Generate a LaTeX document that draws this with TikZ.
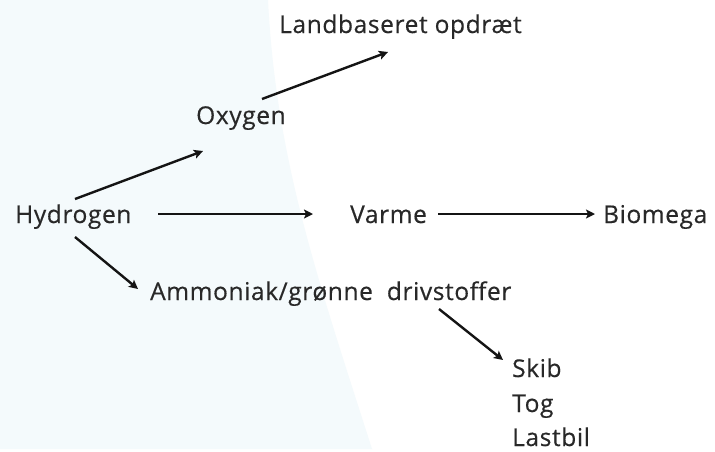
\documentclass[tikz,border=0pt]{standalone}
\usepackage{fontspec}
\setmainfont[LetterSpace=2.5,FakeBold=0.4]{Open Sans}
\usetikzlibrary{arrows.meta}
\definecolor{paleblue}{RGB}{244,250,252}
\definecolor{txtgray}{RGB}{40,40,40}
\tikzset{
  lbl/.style={inner sep=0pt, anchor=base west, text=txtgray,
    font=\fontsize{24.5}{29}\selectfont},
  arr/.style={line width=2.4pt, draw=black!92,
    -{Stealth[length=9pt,width=9pt,inset=2pt]}}
}
\begin{document}
\begin{tikzpicture}[x=1pt,y=-1pt]
  % Background
  \useasboundingbox (0,0) rectangle (715,451);
  \fill[white] (0,0) rectangle (715,451);
  \fill[paleblue] (0,0) -- (268,0) .. controls (276,160) and (318,280) .. (372,449) -- (0,449) -- cycle;
  % Labels
  \node[lbl] (land) at (279,33) {Landbaseret opdræt};
  \node[lbl] (oxy) at (196,124) {Oxygen};
  \node[lbl] (hyd) at (15,223) {Hydrogen};
  \node[lbl] (varme) at (350,223) {Varme};
  \node[lbl] (bio) at (603,223) {Biomega};
  \node[lbl] (amm) at (150,300) {Ammoniak/grønne\ \ drivstoffer};
  \node[lbl] (skib) at (512,377) {Skib};
  \node[lbl] (tog) at (512,412) {Tog};
  \node[lbl] (last) at (512,446) {Lastbil};
  % Arrows
  \draw[arr] ([shift={(60,-24)}]hyd.base west) -- ([shift={(7,27)}]oxy.base west);
  \draw[arr] ([shift={(66,-25)}]oxy.base west) -- ([shift={(109,19)}]land.base west);
  \draw[arr] ([shift={(143,-9)}]hyd.base west) -- ([shift={(-37,-9)}]varme.base west);
  \draw[arr] ([shift={(88,-9)}]varme.base west) -- ([shift={(-8,-9)}]bio.base west);
  \draw[arr] ([shift={(60,14)}]hyd.base west) -- ([shift={(-12,-11)}]amm.base west);
  \draw[arr] ([shift={(289,9)}]amm.base west) -- ([shift={(-9,-17)}]skib.base west);
\end{tikzpicture}
\end{document}
